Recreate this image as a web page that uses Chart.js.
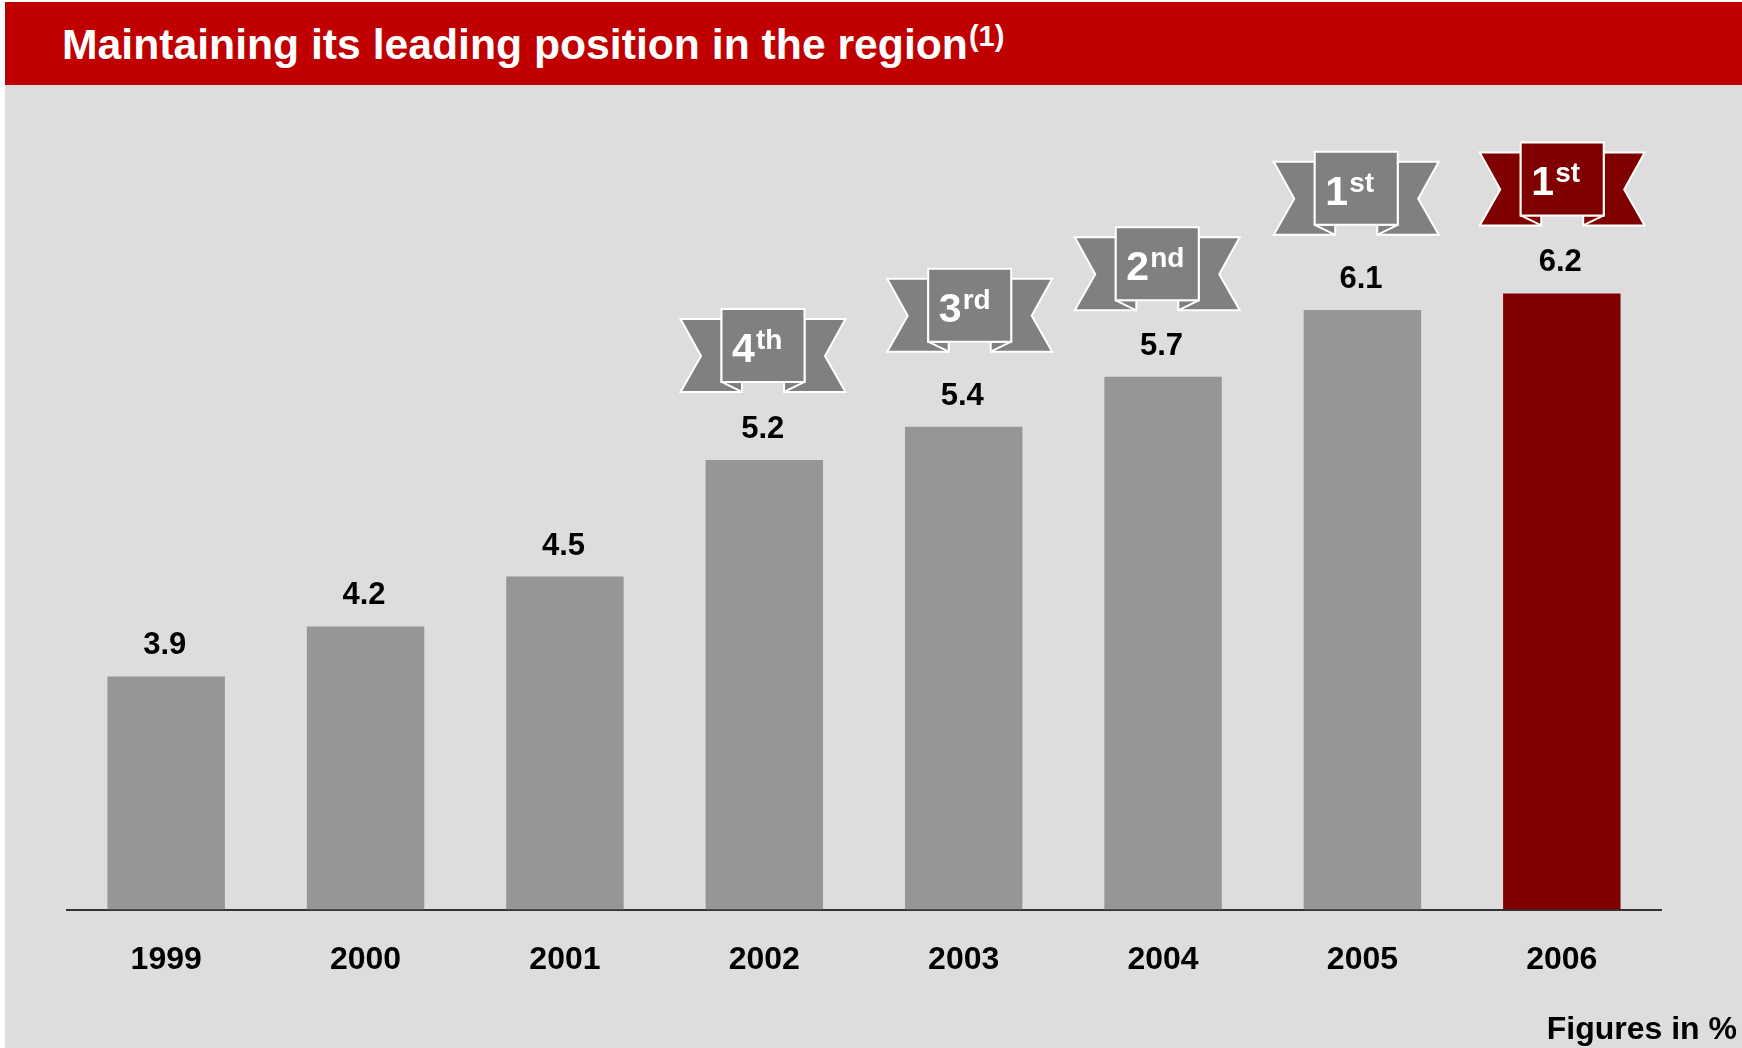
<!DOCTYPE html>
<html><head><meta charset="utf-8">
<script src="https://cdn.jsdelivr.net/npm/chart.js@4"></script>
<style>
html,body{margin:0;padding:0;background:#fff;width:1742px;height:1048px;overflow:hidden}
#panel{position:absolute;left:5px;top:85px;right:0;bottom:0;background:#dddddd}
#band{position:absolute;left:5px;top:2px;right:0;height:83px;background:#c00000}
#title{position:absolute;left:62px;top:19px;color:#fff;font:bold 42.7px/50px "Liberation Sans",Arial,sans-serif;white-space:nowrap}
#title sup{font-size:29px;line-height:0;vertical-align:13px;margin-left:1px}
#note{position:absolute;right:5px;top:1010px;color:#000;font:bold 32px/36px "Liberation Sans",Arial,sans-serif;white-space:nowrap}
canvas{position:absolute;left:0;top:0}
</style></head>
<body>
<div id="panel"></div><div id="band"></div>
<div id="title">Maintaining its leading position in the region<sup>(1)</sup></div>
<canvas id="c" width="1742" height="1048"></canvas>
<div id="note">Figures in %</div>
<script>
const years = ['1999','2000','2001','2002','2003','2004','2005','2006'];
const shares = [3.9,4.2,4.5,5.2,5.4,5.7,6.1,6.2];
const barColors = ['#969696','#969696','#969696','#969696','#969696','#969696','#969696','#800000'];
const rankNumbers = [null,null,null,'4','3','2','1','1'];
const rankSuffixes = [null,null,null,'th','rd','nd','st','st'];
const ribbonColors = [null,null,null,'#808080','#808080','#808080','#808080','#800000'];
const ribbonShiftX = [0,0,0,-1.3,6,-5.8,-6.2,0.4];
const ribbonLift = [0,0,0,151,158,149.4,158.3,151];

const FONT = '"Liberation Sans",Arial,sans-serif';

const overlay = {
  id:'overlay',
  afterDatasetsDraw(chart){
    const ctx = chart.ctx, bars = chart.getDatasetMeta(0).data;
    ctx.save();
    bars.forEach((bar,i)=>{
      ctx.fillStyle='#000';
      ctx.font='bold 31px '+FONT;
      ctx.textAlign='center';
      ctx.textBaseline='alphabetic';
      ctx.fillText(shares[i].toFixed(1), bar.x-1.5, bar.y-22);
      if(rankNumbers[i]) drawRibbon(ctx, bar.x+ribbonShiftX[i], bar.y-ribbonLift[i], ribbonColors[i], rankNumbers[i], rankSuffixes[i]);
    });
    ctx.restore();
  }
};

function drawRibbon(ctx,cx,top,color,num,suf){
  const l=cx-41.5, r=cx+41.5;
  ctx.lineWidth=2; ctx.strokeStyle='#fff'; ctx.fillStyle=color; ctx.lineJoin='miter';
  const wing=(s)=>{
    const x=d=>cx+s*d;
    ctx.beginPath();
    ctx.moveTo(x(41.5),top+10);
    ctx.lineTo(x(82.5),top+10);
    ctx.lineTo(x(62),top+47);
    ctx.lineTo(x(82.5),top+83);
    ctx.lineTo(x(21),top+83);
    ctx.lineTo(x(21),top+73);
    ctx.lineTo(x(41.5),top+73);
    ctx.closePath();
    ctx.fill(); ctx.stroke();
    ctx.beginPath();
    ctx.moveTo(x(41.5),top+73);
    ctx.lineTo(x(21),top+83);
    ctx.stroke();
  };
  wing(-1); wing(1);
  ctx.beginPath(); ctx.rect(l,top,83,73); ctx.fill(); ctx.stroke();
  ctx.fillStyle='#fff'; ctx.textAlign='left'; ctx.textBaseline='alphabetic';
  ctx.font='bold 41px '+FONT;
  ctx.fillText(num,l+10.5,top+53);
  ctx.font='bold 28px '+FONT;
  ctx.fillText(suf,l+34.5,top+40);
}

new Chart(document.getElementById('c'),{
  type:'bar',
  data:{labels:years,datasets:[{data:shares,backgroundColor:barColors,barPercentage:0.589,categoryPercentage:1,borderWidth:0,base:2.5}]},
  options:{
    responsive:false,animation:false,
    layout:{padding:{left:66.5,right:80.5,top:77,bottom:0}},
    plugins:{legend:{display:false},title:{display:false},tooltip:{enabled:false}},
    scales:{
      y:{display:false,min:2.5,max:7.5},
      x:{
        afterFit(s){s.height=138.5;},
        grid:{display:false,drawTicks:false},
        border:{display:true,color:'#333',width:2},
        ticks:{color:'#000',font:{family:FONT,size:32,weight:'bold'},padding:31.5,maxRotation:0,autoSkip:false}
      }
    }
  },
  plugins:[overlay]
});
</script>
</body></html>
